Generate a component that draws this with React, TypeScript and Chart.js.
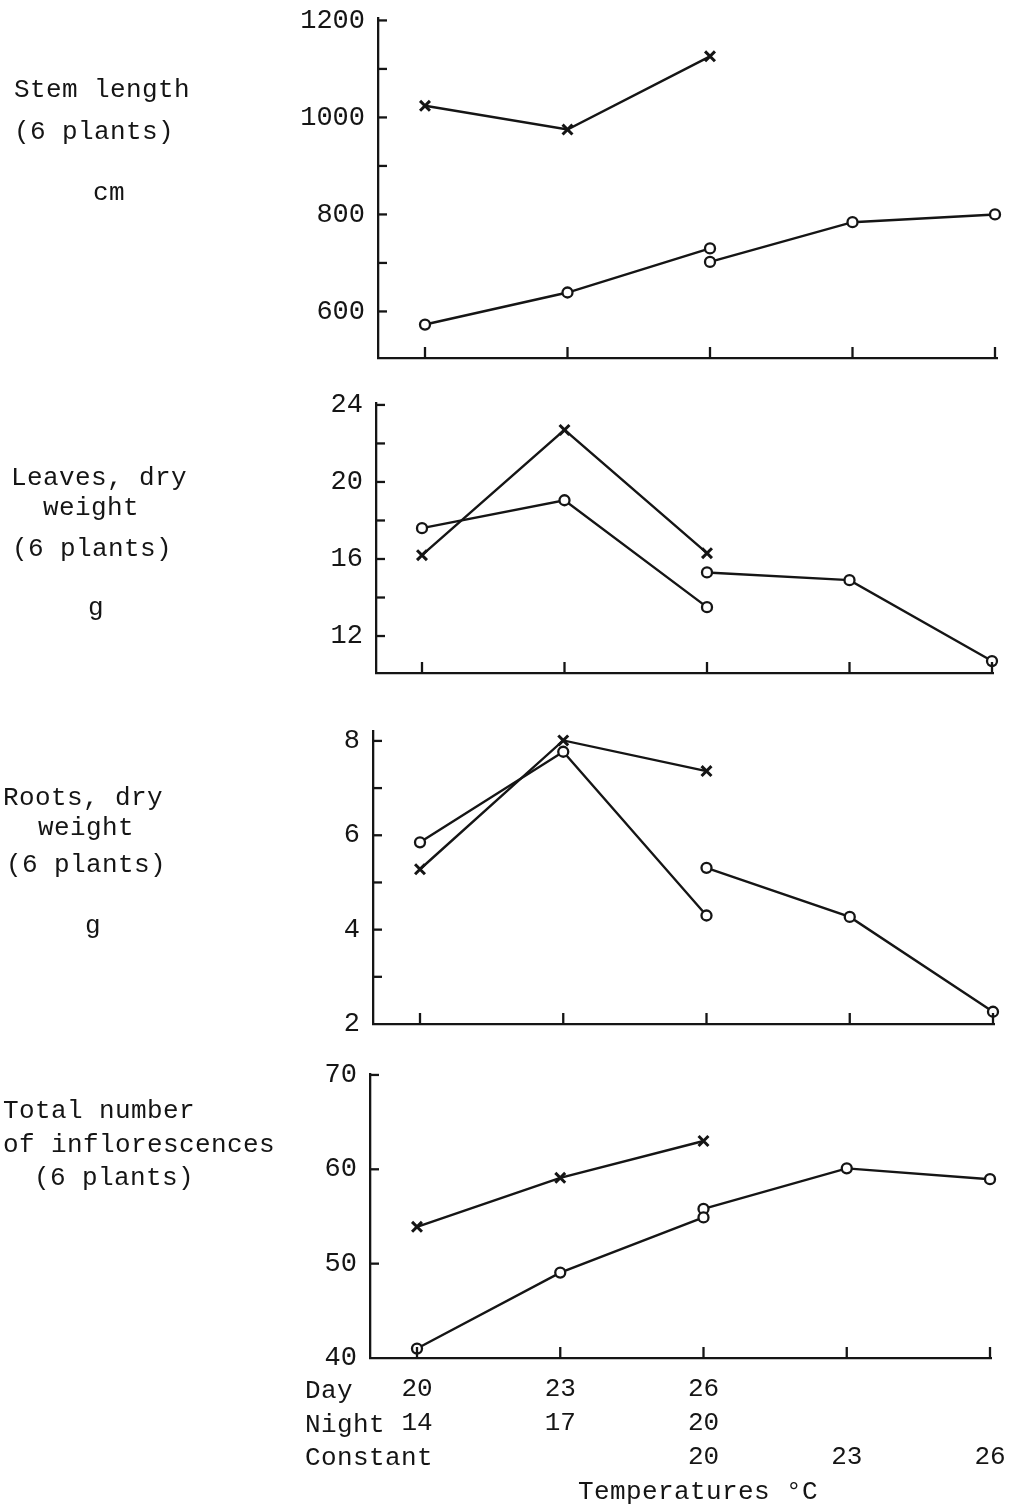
import React, { useEffect, useRef } from "react";
import { Chart, registerables } from "chart.js";

Chart.register(...registerables);

const INK = "#151515";
const FONT = "'Liberation Mono', 'DejaVu Sans Mono', monospace";

// ---- categories / tick labels ----
const TICK_POSITIONS = [0, 1, 2, 3, 4];
const X_DAY_NIGHT = [0, 1, 2];
const X_CONSTANT = [2, 3, 4];
const DAY_TICKS = ["20", "23", "26", "", ""];
const NIGHT_TICKS = ["14", "17", "20", "", ""];
const CONSTANT_TICKS = ["", "", "20", "23", "26"];

// ---- Stem length (cm) ----
const STEM_CROSS = [1024, 975, 1126];
const STEM_CIRCLE_DN = [573, 639, 730];
const STEM_CIRCLE_CONST = [702, 784, 800];
const STEM_Y_TICKS = [600, 700, 800, 900, 1000, 1100, 1200];
const STEM_Y_LABELS = [600, 800, 1000, 1200];

// ---- Leaves dry weight (g) ----
const LEAVES_CROSS = [16.2, 22.7, 16.3];
const LEAVES_CIRCLE_DN = [17.6, 19.05, 13.5];
const LEAVES_CIRCLE_CONST = [15.3, 14.9, 10.7];
const LEAVES_Y_TICKS = [12, 14, 16, 18, 20, 22, 24];
const LEAVES_Y_LABELS = [12, 16, 20, 24];

// ---- Roots dry weight (g) ----
const ROOTS_CROSS = [5.28, 8.01, 7.36];
const ROOTS_CIRCLE_DN = [5.85, 7.77, 4.3];
const ROOTS_CIRCLE_CONST = [5.31, 4.27, 2.26];
const ROOTS_Y_TICKS = [3, 4, 5, 6, 7, 8];
const ROOTS_Y_LABELS = [2, 4, 6, 8];

// ---- Total number of inflorescences ----
const INFL_CROSS = [53.9, 59.1, 63.0];
const INFL_CIRCLE_DN = [41.0, 49.05, 54.9];
const INFL_CIRCLE_CONST = [55.8, 60.1, 58.95];
const INFL_Y_TICKS = [40, 50, 60, 70];
const INFL_Y_LABELS = [40, 50, 60, 70];

type Panel = {
  key: string;
  top: number;
  height: number;
  areaTop: number;
  areaBottom: number;
  left: number;
  right: number;
  x0: number;
  x4: number;
  yMin: number;
  yMax: number;
  yTicks: number[];
  yLabels: number[];
  cross: number[];
  circleDN: number[];
  circleConst: number[];
  showX: boolean;
};

const PANELS: Panel[] = [
  {
    key: "stem", top: 0, height: 372, areaTop: 18, areaBottom: 358, left: 378, right: 997,
    x0: 425, x4: 995, yMin: 504, yMax: 1205, yTicks: STEM_Y_TICKS, yLabels: STEM_Y_LABELS,
    cross: STEM_CROSS, circleDN: STEM_CIRCLE_DN, circleConst: STEM_CIRCLE_CONST, showX: false,
  },
  {
    key: "leaves", top: 385, height: 305, areaTop: 403, areaBottom: 673, left: 376, right: 993,
    x0: 422, x4: 992, yMin: 10.08, yMax: 24.1, yTicks: LEAVES_Y_TICKS, yLabels: LEAVES_Y_LABELS,
    cross: LEAVES_CROSS, circleDN: LEAVES_CIRCLE_DN, circleConst: LEAVES_CIRCLE_CONST, showX: false,
  },
  {
    key: "roots", top: 705, height: 335, areaTop: 731, areaBottom: 1024, left: 373, right: 994,
    x0: 420, x4: 993, yMin: 2, yMax: 8.21, yTicks: ROOTS_Y_TICKS, yLabels: ROOTS_Y_LABELS,
    cross: ROOTS_CROSS, circleDN: ROOTS_CIRCLE_DN, circleConst: ROOTS_CIRCLE_CONST, showX: false,
  },
  {
    key: "infl", top: 1050, height: 460, areaTop: 1074, areaBottom: 1358, left: 370, right: 991,
    x0: 417, x4: 990, yMin: 40, yMax: 70.1, yTicks: INFL_Y_TICKS, yLabels: INFL_Y_LABELS,
    cross: INFL_CROSS, circleDN: INFL_CIRCLE_DN, circleConst: INFL_CIRCLE_CONST, showX: true,
  },
];

const Y_AXIS_WIDTH = 90;

const inwardTicks = {
  id: "inwardTicks",
  afterDraw(chart: any) {
    const { ctx, chartArea } = chart;
    const xs = chart.scales.x;
    const ys = chart.scales.y;
    ctx.save();
    ctx.strokeStyle = INK;
    ctx.lineWidth = 2.3;
    ys.ticks.forEach((t: any) => {
      if (t.value <= ys.min) return;
      const py = ys.getPixelForValue(t.value);
      ctx.beginPath();
      ctx.moveTo(chartArea.left, py);
      ctx.lineTo(chartArea.left + 9, py);
      ctx.stroke();
    });
    xs.ticks.forEach((t: any) => {
      const px = xs.getPixelForValue(t.value);
      ctx.beginPath();
      ctx.moveTo(px, chartArea.bottom);
      ctx.lineTo(px, chartArea.bottom - 11);
      ctx.stroke();
    });
    ctx.restore();
  },
};

function PanelChart({ p }: { p: Panel }) {
  const ref = useRef<HTMLCanvasElement | null>(null);
  useEffect(() => {
    if (!ref.current) return;
    const unit = (p.x4 - p.x0) / 4;
    const xMin = (p.left - p.x0) / unit;
    const xMax = 4 + (p.right - p.x4) / unit;
    const xAxisHeight = p.showX ? p.top + p.height - p.areaBottom : 0;
    const line = (xs: number[], ys: number[], cross: boolean) => ({
      data: ys.map((y, i) => ({ x: xs[i], y })),
      borderColor: INK,
      borderWidth: 2.4,
      pointStyle: cross ? "crossRot" : "circle",
      pointRadius: cross ? 7 : 5,
      pointBorderWidth: cross ? 3 : 2.3,
      pointBorderColor: INK,
      pointBackgroundColor: cross ? INK : "#ffffff",
      tension: 0,
      clip: false as any,
    });
    const chart = new Chart(ref.current, {
      type: "line",
      data: {
        datasets: [
          line(X_DAY_NIGHT, p.cross, true),
          line(X_DAY_NIGHT, p.circleDN, false),
          line(X_CONSTANT, p.circleConst, false),
        ] as any,
      },
      options: {
        animation: false,
        responsive: false,
        devicePixelRatio: 1,
        layout: {
          padding: {
            left: p.left - Y_AXIS_WIDTH,
            right: 1013 - p.right,
            top: p.areaTop - p.top,
            bottom: p.showX ? 0 : p.top + p.height - p.areaBottom,
          },
        },
        plugins: { legend: { display: false }, tooltip: { enabled: false } },
        scales: {
          x: {
            type: "linear",
            position: "bottom",
            min: xMin,
            max: xMax,
            afterBuildTicks: (s: any) => {
              s.ticks = TICK_POSITIONS.map((v) => ({ value: v }));
            },
            afterFit: (s: any) => {
              s.height = xAxisHeight;
              s.paddingLeft = 0;
              s.paddingRight = 0;
            },
            grid: { display: true, drawOnChartArea: false, drawTicks: false },
            border: { display: true, color: INK, width: 2.3 },
            ticks: {
              display: p.showX,
              autoSkip: false,
              maxRotation: 0,
              padding: 14,
              color: INK,
              font: { family: FONT, size: 26, lineHeight: 34 / 26 },
              callback: (_v: any, i: number) => [DAY_TICKS[i], NIGHT_TICKS[i], CONSTANT_TICKS[i]],
            },
          },
          y: {
            type: "linear",
            min: p.yMin,
            max: p.yMax,
            afterBuildTicks: (s: any) => {
              s.ticks = p.yLabels
                .concat(p.yTicks.filter((v) => !p.yLabels.includes(v)))
                .sort((a, b) => a - b)
                .map((v) => ({ value: v }));
            },
            afterFit: (s: any) => {
              s.width = Y_AXIS_WIDTH;
              s.paddingTop = 0;
              s.paddingBottom = 0;
            },
            grid: { display: true, drawOnChartArea: false, drawTicks: false },
            border: { display: true, color: INK, width: 2.3 },
            ticks: {
              autoSkip: false,
              padding: 13,
              color: INK,
              font: { family: FONT, size: 27 },
              callback: (v: any) => (p.yLabels.includes(Number(v)) ? String(v) : ""),
            },
          },
        },
      } as any,
      plugins: [inwardTicks],
    });
    return () => chart.destroy();
  }, [p]);
  return (
    <canvas
      ref={ref}
      width={1013}
      height={p.height}
      style={{ position: "absolute", left: 0, top: p.top, width: 1013, height: p.height }}
    />
  );
}

function Label({ text, left, baseline }: { text: string; left: number; baseline: number }) {
  return (
    <div
      style={{
        position: "absolute",
        left,
        top: baseline - 22,
        fontFamily: FONT,
        fontSize: 26,
        lineHeight: "30px",
        whiteSpace: "pre",
        color: INK,
        letterSpacing: 0.4,
      }}
    >
      {text}
    </div>
  );
}

const SIDE_LABELS: { text: string; left: number; baseline: number }[] = [
  { text: "Stem length", left: 14, baseline: 97 },
  { text: "(6 plants)", left: 14, baseline: 139 },
  { text: "cm", left: 93, baseline: 200 },
  { text: "Leaves, dry", left: 11, baseline: 485 },
  { text: "weight", left: 43, baseline: 515 },
  { text: "(6 plants)", left: 12, baseline: 556 },
  { text: "g", left: 88, baseline: 615 },
  { text: "Roots, dry", left: 3, baseline: 805 },
  { text: "weight", left: 38, baseline: 835 },
  { text: "(6 plants)", left: 6, baseline: 872 },
  { text: "g", left: 85, baseline: 933 },
  { text: "Total number", left: 3, baseline: 1118 },
  { text: "of inflorescences", left: 3, baseline: 1152 },
  { text: "(6 plants)", left: 34, baseline: 1185 },
  { text: "Day", left: 305, baseline: 1398 },
  { text: "Night", left: 305, baseline: 1432 },
  { text: "Constant", left: 305, baseline: 1465 },
  { text: "Temperatures °C", left: 578, baseline: 1499 },
];

export default function App() {
  return (
    <div
      style={{
        position: "absolute",
        left: 0,
        top: 0,
        width: 1013,
        height: 1510,
        background: "#ffffff",
        overflow: "hidden",
      }}
    >
      {PANELS.map((p) => (
        <PanelChart key={p.key} p={p} />
      ))}
      {SIDE_LABELS.map((l, i) => (
        <Label key={i} text={l.text} left={l.left} baseline={l.baseline} />
      ))}
    </div>
  );
}
